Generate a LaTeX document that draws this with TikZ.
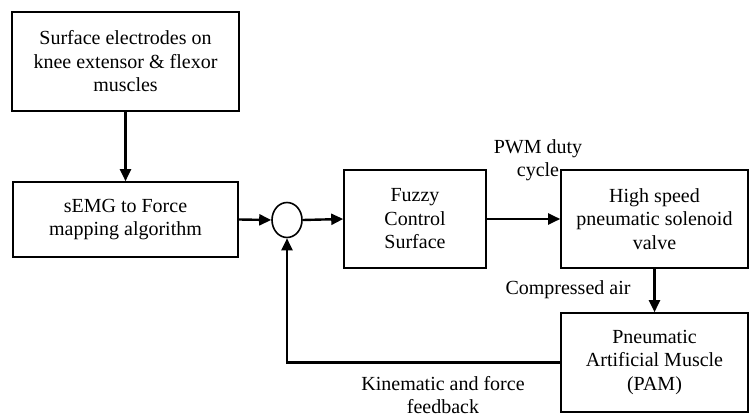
\documentclass[tikz,border=0pt]{standalone}
\usepackage{fontspec}
\setmainfont{LiberationSerif}[Extension=.ttf, UprightFont=*-Regular, BoldFont=*-Bold]
\usetikzlibrary{shapes.geometric,arrows.meta,positioning,calc}

\begin{document}
\begin{tikzpicture}[
    x=1pt, y=-1pt,
    font=\rmfamily\fontsize{20}{23.5}\selectfont,
    block/.style={draw, line width=1.6pt, align=center, inner sep=4pt},
    flow/.style={-{Triangle[length=12pt, width=11pt]}, line width=2.4pt},
    lbl/.style={align=center, inner sep=0pt}
]

  % Bounding area
  \useasboundingbox (0,0) rectangle (750,417);

  % Blocks
  \node[block, minimum width=227pt, minimum height=99pt] (elec) at (125.5, 61.5) {Surface electrodes on\\knee extensor \& flexor\\muscles};
  \node[block, minimum width=225pt, minimum height=75pt] (semg) at (125.5, 219.5) {sEMG to Force\\mapping algorithm};
  \node[draw, ellipse, line width=1.6pt, minimum width=30pt, minimum height=35pt, inner sep=0pt] (sum) at (287, 220) {};
  \node[block, minimum width=142pt, minimum height=98pt] (fuzzy) at (415, 219) {Fuzzy\\Control\\Surface};
  \node[block, minimum width=187pt, minimum height=98pt] (valve) at (654.5, 219) {High speed\\pneumatic solenoid\\valve};
  \node[block, minimum width=187pt, minimum height=99pt] (pam) at (654.5, 362.5) {Pneumatic\\Artificial Muscle\\(PAM)};

  % Labels
  \node[lbl] (pwm) at (538, 160) {PWM duty\\cycle};
  \node[lbl] (air) at (568, 290) {Compressed air};
  \node[lbl] (fb) at (443, 395) {Kinematic and force\\feedback};

  % Connectors
  \draw[flow] (elec.south) -- (semg.north);
  \draw[flow] (semg.east) -- (sum.west);
  \draw[flow] (sum.east) -- (fuzzy.west);
  \draw[flow] (fuzzy.east) -- (valve.west);
  \draw[flow] (valve.south) -- (pam.north);
  \draw[flow] (pam.west) -| (sum.south);

\end{tikzpicture}
\end{document}
